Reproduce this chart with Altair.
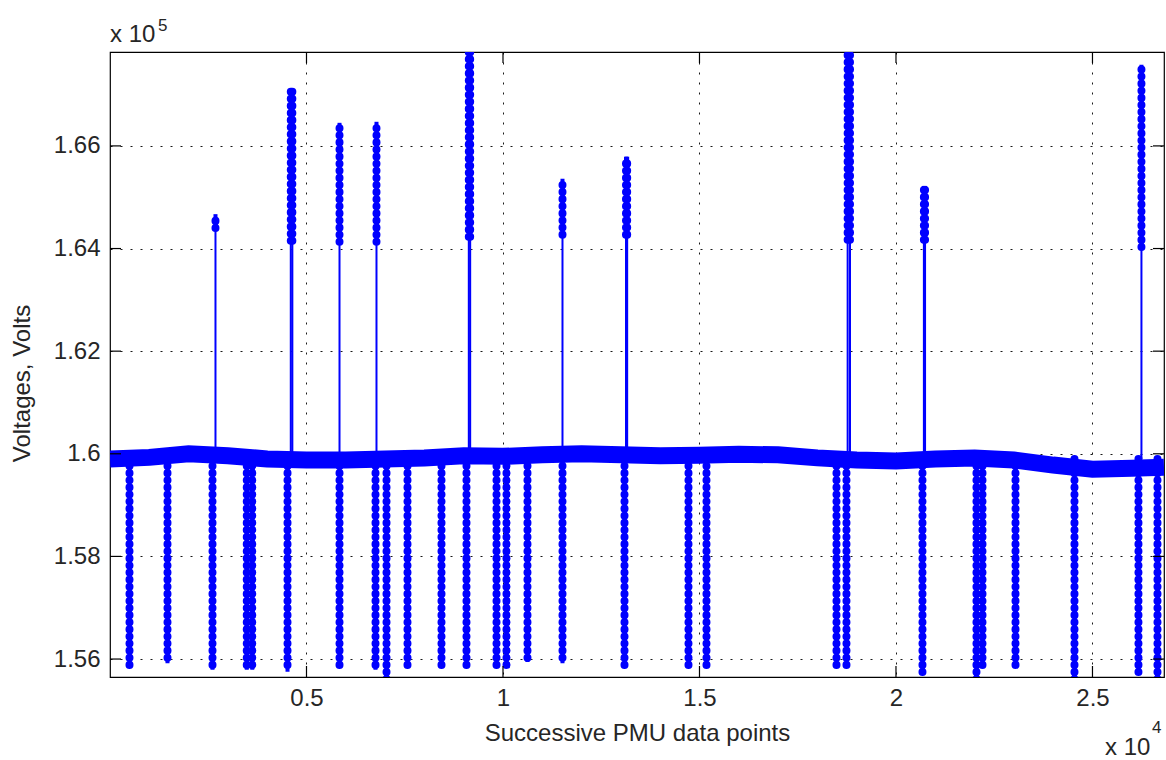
import altair as alt
import pandas as pd

# ---- data ----
# centre of the noisy ~1.599e5 band
base_x = [0, 1000, 2000, 3000, 4000, 5000, 6000, 7000, 8000, 9000, 10000,
          11000, 12000, 13000, 14000, 15000, 16000, 17000, 18000, 19000,
          20000, 21000, 22000, 23000, 24000, 25000, 26000, 26820]
base_v = [159900, 159930, 160000, 159960, 159900, 159880, 159880, 159900,
          159920, 159960, 159950, 159980, 160000, 159980, 159960, 159970,
          159990, 159980, 159920, 159880, 159860, 159900, 159920, 159880,
          159780, 159700, 159720, 159740]

# upward spikes: position, value where the dense markers begin, peak value
up_x = [2684, 4600, 4640, 5840, 6781, 9130, 9165, 11514, 13130, 13160,
        18770, 18830, 20710, 20740, 26246]
up_start = [164400, 164150, 164150, 164130, 164130, 164230, 164230, 164270,
            164270, 164270, 164170, 164170, 164170, 164170, 164030]
up_top = [164670, 167110, 167110, 166450, 166470, 167900, 167900, 165360,
          165790, 165790, 167900, 167900, 165220, 165220, 167580]

# downward spikes: position, lowest value
down_x = [496, 1463, 2608, 3480, 3620, 4517, 5840, 6756, 7036, 7570, 8435,
          9071, 9835, 10089, 10623, 11514, 13092, 14720, 15178, 18486,
          18740, 20674, 22048, 22201, 23041, 24542, 26170, 26654]
down_bottom = [155840, 155920, 155790, 155790, 155790, 155750, 155830,
               155790, 155600, 155830, 155840, 155840, 155830, 155840,
               155940, 155920, 155860, 155840, 155880, 155840, 155840,
               155690, 155600, 155880, 155830, 155550, 155730, 155600]

x_ticks = [5000, 10000, 15000, 20000, 25000]
y_ticks = [156000, 158000, 160000, 162000, 164000, 166000]

BAND_MID = 159900

W, H = 1054, 625
BLUE = "#0000ff"
FONT = "Liberation Sans"
INK = "#262626"

xs = alt.Scale(domain=[0, 26820], nice=False, zero=False)
ys = alt.Scale(domain=[155650, 167830], nice=False, zero=False)

base_df = pd.DataFrame({"x": base_x, "v": base_v})
up_df = pd.DataFrame({"x": up_x, "start": up_start, "top": up_top, "mid": BAND_MID})
down_df = pd.DataFrame({"x": down_x, "bottom": down_bottom, "top": BAND_MID})
xt_df = pd.DataFrame({"t": x_ticks})
yt_df = pd.DataFrame({"t": y_ticks})

x_axis = alt.Axis(values=x_ticks, labelExpr="format(datum.value/10000, '.2~g')",
                  grid=True, gridDash=[2, 8], gridColor="#000000", gridWidth=1,
                  gridOpacity=0.9, ticks=False, tickSize=0, domain=False,
                  labelFont=FONT, labelFontSize=24, labelColor=INK,
                  labelPadding=9, title="Successive PMU data points",
                  titleFont=FONT, titleFontSize=24, titleFontWeight="normal",
                  titleColor=INK, titlePadding=11)
y_axis = alt.Axis(values=y_ticks, labelExpr="format(datum.value/100000, '.3~g')",
                  grid=True, gridDash=[2, 8], gridColor="#000000", gridWidth=1,
                  gridOpacity=0.9, ticks=False, tickSize=0, domain=False,
                  labelFont=FONT, labelFontSize=24, labelColor=INK,
                  labelPadding=10, title="Voltages, Volts",
                  titleFont=FONT, titleFontSize=24, titleFontWeight="normal",
                  titleColor=INK, titlePadding=19, titleY=331)

band = alt.Chart(base_df).mark_line(color=BLUE, strokeWidth=17, clip=True).encode(
    x=alt.X("x:Q", scale=xs, axis=x_axis),
    y=alt.Y("v:Q", scale=ys, axis=y_axis),
)

bead = dict(color=BLUE, strokeWidth=8, strokeDash=[0.1, 7], strokeCap="round", clip=True)

up_stem = alt.Chart(up_df).mark_rule(color=BLUE, strokeWidth=2, clip=True).encode(
    x=alt.X("x:Q", scale=xs), y=alt.Y("mid:Q", scale=ys), y2="start:Q")
up_core = alt.Chart(up_df).mark_rule(color=BLUE, strokeWidth=4, clip=True).encode(
    x=alt.X("x:Q", scale=xs), y=alt.Y("start:Q", scale=ys), y2="top:Q")
up_beads = alt.Chart(up_df).mark_rule(**bead).encode(
    x=alt.X("x:Q", scale=xs), y=alt.Y("start:Q", scale=ys), y2="top:Q")

down_core = alt.Chart(down_df).mark_rule(color=BLUE, strokeWidth=4, clip=True).encode(
    x=alt.X("x:Q", scale=xs), y=alt.Y("top:Q", scale=ys), y2="bottom:Q")
down_beads = alt.Chart(down_df).mark_rule(**bead).encode(
    x=alt.X("x:Q", scale=xs), y=alt.Y("top:Q", scale=ys), y2="bottom:Q")

tick_style = dict(color="#000000", strokeWidth=1.2)
xt_bot = alt.Chart(xt_df).mark_rule(**tick_style).encode(
    x=alt.X("t:Q", scale=xs), y=alt.value(H), y2=alt.value(H - 11))
xt_top = alt.Chart(xt_df).mark_rule(**tick_style).encode(
    x=alt.X("t:Q", scale=xs), y=alt.value(0), y2=alt.value(11))
yt_left = alt.Chart(yt_df).mark_rule(**tick_style).encode(
    y=alt.Y("t:Q", scale=ys), x=alt.value(0), x2=alt.value(11))
yt_right = alt.Chart(yt_df).mark_rule(**tick_style).encode(
    y=alt.Y("t:Q", scale=ys), x=alt.value(W), x2=alt.value(W - 11))

ann_df = pd.DataFrame({"t": ["x 10"]})
exp5_df = pd.DataFrame({"t": ["5"]})
exp4_df = pd.DataFrame({"t": ["4"]})
txt = dict(font=FONT, color=INK, align="left", baseline="alphabetic")
mult_y = alt.Chart(ann_df).mark_text(fontSize=24, **txt).encode(
    text="t:N", x=alt.value(0), y=alt.value(-10))
exp_y = alt.Chart(exp5_df).mark_text(fontSize=17, **txt).encode(
    text="t:N", x=alt.value(48), y=alt.value(-21))
mult_x = alt.Chart(ann_df).mark_text(fontSize=24, **txt).encode(
    text="t:N", x=alt.value(995), y=alt.value(703))
exp_x = alt.Chart(exp4_df).mark_text(fontSize=17, **txt).encode(
    text="t:N", x=alt.value(1042), y=alt.value(681))

chart = alt.layer(
    band, up_stem, up_core, up_beads, down_core, down_beads,
    xt_bot, xt_top, yt_left, yt_right, mult_y, exp_y, mult_x, exp_x,
).properties(
    width=W, height=H,
    autosize=alt.AutoSizeParams(type="none"),
    padding={"left": 110, "top": 52, "right": 2, "bottom": 83},
    background="white",
).configure_view(
    stroke="#000000", strokeWidth=1.2
)

chart.save("out.html", embed_options={"renderer": "svg", "actions": False})
